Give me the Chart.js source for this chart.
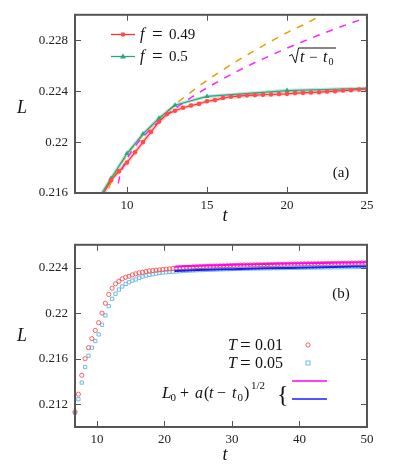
<!DOCTYPE html>
<html>
<head>
<meta charset="utf-8">
<script src="https://cdn.jsdelivr.net/npm/chart.js@4.4.1/dist/chart.umd.min.js"></script>
<style>
  body { margin: 0; background: #fff; }
  #wrap { position: relative; width: 395px; height: 467px; }
  canvas { position: absolute; left: 0; }
</style>
</head>
<body>
<div id="wrap">
  <canvas id="panelA" width="395" height="230" style="top:0"></canvas>
  <canvas id="panelB" width="395" height="237" style="top:230px"></canvas>
</div>
<script>
// ---- panel (a) data ----
const tRed = [8.5, 9, 9.5, 10, 10.5, 11, 11.5, 12, 12.5, 13, 13.5, 14, 14.5, 15, 15.5, 16, 16.5,
  17, 17.5, 18, 18.5, 19, 19.5, 20, 20.5, 21, 21.5, 22, 22.5, 23, 23.5, 24, 24.5, 25];
const lRed = [0.2159, 0.2170, 0.2177, 0.2184, 0.2192, 0.2200, 0.2208, 0.2216, 0.2222, 0.22246,
  0.2227, 0.22287, 0.2230, 0.22321, 0.2233, 0.22346, 0.22356, 0.22361, 0.22367, 0.22369,
  0.22372, 0.22374, 0.22377, 0.22379, 0.22385, 0.22387, 0.2239, 0.22392, 0.22397, 0.224,
  0.22405, 0.22408, 0.22413, 0.22415];
const tGreen = [8, 9, 10, 11, 12, 13, 15, 20, 25];
const lGreen = [0.2151, 0.21713, 0.2191, 0.22064, 0.22187, 0.2229, 0.22359, 0.22405, 0.22423];
const tOrange = [8.6, 8.75, 9, 9.5, 10, 11, 12, 13, 14, 15, 16, 17, 18, 19, 20, 21, 22, 23];
const lOrange = [0.21533, 0.21598, 0.2168, 0.21803, 0.219, 0.22055, 0.22183, 0.22294, 0.22393,
  0.22484, 0.22568, 0.22647, 0.22721, 0.22792, 0.2286, 0.2292, 0.22985, 0.23045];
const tMag = [9.45, 9.6, 10, 10.5, 11, 12, 13, 14, 15, 16, 17, 18, 19, 20, 21, 22, 23, 24, 25];
const lMag = [0.21676, 0.21755, 0.21869, 0.21965, 0.22041, 0.22162, 0.22262, 0.22349, 0.22426,
  0.22497, 0.22563, 0.22625, 0.22682, 0.22738, 0.2279, 0.22841, 0.22889, 0.22935, 0.2298];
const xTicksA = [10, 15, 20, 25];
const yTicksA = [0.216, 0.22, 0.224, 0.228];
const yLabelsA = ['0.216', '0.22', '0.224', '0.228'];

// ---- panel (b) data ----
const tB = [6.75, 7.25, 7.75, 8.25, 8.75, 9.25, 9.75, 10.25, 10.75, 11.25, 11.75, 12.25, 12.75,
  13.25, 13.75, 14.25, 14.75, 15.25, 15.75, 16.25, 16.75, 17.25, 17.75, 18.25, 18.75, 19.25, 19.75,
  20.25, 20.75, 21.25, 21.75, 22.25, 22.75, 23.25, 23.75, 24.25, 24.75,
  25.25, 25.75, 26.25, 26.75, 27.25, 27.75, 28.25, 28.75, 29.25, 29.75,
  30.25, 30.75, 31.25, 31.75, 32.25, 32.75, 33.25, 33.75, 34.25, 34.75,
  35.25, 35.75, 36.25, 36.75, 37.25, 37.75, 38.25, 38.75, 39.25, 39.75,
  40.25, 40.75, 41.25, 41.75, 42.25, 42.75, 43.25, 43.75, 44.25, 44.75,
  45.25, 45.75, 46.25, 46.75, 47.25, 47.75, 48.25, 48.75, 49.25, 49.75];
const lT001 = [0.21133, 0.21288, 0.21454, 0.2160, 0.21697, 0.21776, 0.21848, 0.21916, 0.2200, 0.22087,
  0.22164, 0.22219, 0.22257, 0.2228, 0.22301, 0.22315, 0.22324, 0.22336, 0.22345, 0.22354,
  0.22359, 0.22365, 0.22371, 0.22374, 0.22377, 0.2238, 0.22383,
  0.22386, 0.22389, 0.22392, 0.22395, 0.22397, 0.22399, 0.22401, 0.22403, 0.22405, 0.22406,
  0.22408, 0.22409, 0.22411, 0.22412, 0.22413, 0.22414, 0.22415, 0.22416, 0.22417, 0.22418,
  0.22419, 0.2242, 0.22421, 0.22422, 0.22422, 0.22423, 0.22424, 0.22425, 0.22425, 0.22426,
  0.22427, 0.22427, 0.22428, 0.22429, 0.22429, 0.2243, 0.2243, 0.22431, 0.22432, 0.22432,
  0.22433, 0.22433, 0.22434, 0.22434, 0.22435, 0.22435, 0.22436, 0.22436, 0.22437, 0.22437,
  0.22438, 0.22438, 0.22438, 0.22439, 0.22439, 0.2244, 0.2244, 0.2244, 0.22441, 0.22441];
const lT005 = [0.21124, 0.21244, 0.2139, 0.21527, 0.21626, 0.21697, 0.21755, 0.21813, 0.21898, 0.2198,
  0.22061, 0.22126, 0.2217, 0.22207, 0.22234, 0.22257, 0.22271, 0.22286, 0.22295, 0.2231,
  0.22321, 0.2233, 0.22336, 0.22341, 0.22347, 0.22353, 0.22356,
  0.22359, 0.22362, 0.22364, 0.22366, 0.22368, 0.2237, 0.22372, 0.22374, 0.22375, 0.22377,
  0.22378, 0.22379, 0.2238, 0.22381, 0.22382, 0.22383, 0.22384, 0.22385, 0.22386, 0.22387,
  0.22388, 0.22388, 0.22389, 0.2239, 0.2239, 0.22391, 0.22392, 0.22392, 0.22393, 0.22393,
  0.22394, 0.22394, 0.22395, 0.22395, 0.22396, 0.22396, 0.22397, 0.22397, 0.22398, 0.22398,
  0.22399, 0.22399, 0.224, 0.224, 0.224, 0.22401, 0.22401, 0.22402, 0.22402, 0.22402,
  0.22403, 0.22403, 0.22403, 0.22404, 0.22404, 0.22404, 0.22405, 0.22405, 0.22405, 0.22406];
const tFit = [21.5, 25, 30, 35, 40, 45, 50];
const lFit001 = [0.22408, 0.22416, 0.22424, 0.22431, 0.22437, 0.22442, 0.22447];
const lFit005 = [0.2237, 0.22378, 0.22386, 0.22393, 0.22399, 0.22405, 0.2241];
const xTicksB = [10, 20, 30, 40, 50];
const yTicksB = [0.212, 0.216, 0.22, 0.224];
const yLabelsB = ['0.212', '0.216', '0.22', '0.224'];

const SERIF = "'Liberation Serif', 'DejaVu Serif', serif";
const rm = s => s + 'px ' + SERIF;
const it = s => 'italic ' + s + 'px ' + SERIF;
const pts = (xs, ys) => xs.map((x, i) => ({ x: x, y: ys[i] }));

function scales(xmin, xmax, xt, ymin, ymax, yt, yl, xh) {
  return {
    x: {
      type: 'linear', min: xmin, max: xmax,
      afterBuildTicks: s => { s.ticks = xt.map(v => ({ value: v })); },
      afterFit: s => { s.height = xh; },
      grid: { display: false, drawTicks: false }, border: { display: false },
      ticks: { font: { family: SERIF, size: 13 }, color: '#222', padding: 5, maxRotation: 0, autoSkip: false }
    },
    y: {
      type: 'linear', min: ymin, max: ymax,
      afterBuildTicks: s => { s.ticks = yt.map(v => ({ value: v })); },
      afterFit: s => { s.width = 75; },
      grid: { display: false, drawTicks: false }, border: { display: false },
      ticks: { font: { family: SERIF, size: 13 }, color: '#222', padding: 7, autoSkip: false,
        callback: (v, i) => yl[i] }
    }
  };
}

// box, inward ticks on all four sides
function drawFrame(chart) {
  const { ctx, chartArea: a, scales: sc } = chart;
  ctx.save();
  ctx.strokeStyle = '#555';
  ctx.lineWidth = 1;
  ctx.beginPath();
  sc.x.ticks.forEach(t => {
    const p = Math.round(sc.x.getPixelForValue(t.value)) + 0.5;
    if (p > a.left + 2 && p < a.right - 2) {
      ctx.moveTo(p, a.bottom); ctx.lineTo(p, a.bottom - 6);
      ctx.moveTo(p, a.top); ctx.lineTo(p, a.top + 6);
    }
  });
  sc.y.ticks.forEach(t => {
    const p = Math.round(sc.y.getPixelForValue(t.value)) + 0.5;
    if (p > a.top + 2 && p < a.bottom - 2) {
      ctx.moveTo(a.left, p); ctx.lineTo(a.left + 6, p);
      ctx.moveTo(a.right, p); ctx.lineTo(a.right - 6, p);
    }
  });
  ctx.stroke();
  ctx.lineWidth = 2;
  ctx.strokeRect(a.left, a.top, a.right - a.left, a.bottom - a.top);
  ctx.restore();
}

function txt(ctx, s, font, x, y, align) {
  ctx.font = font;
  ctx.textAlign = align || 'left';
  ctx.fillText(s, x, y);
}

const decoA = {
  id: 'decoA',
  afterDraw(chart) {
    const ctx = chart.ctx;
    drawFrame(chart);
    ctx.save();
    ctx.fillStyle = '#111';
    ctx.textBaseline = 'alphabetic';
    txt(ctx, 'L', it(18), 22, 113, 'center');
    txt(ctx, 't', it(18), 225, 221, 'center');
    txt(ctx, '(a)', rm(15), 341, 177, 'center');

    // legend
    ctx.lineWidth = 1.3;
    ctx.strokeStyle = '#ff3333';
    ctx.beginPath(); ctx.moveTo(111, 34.5); ctx.lineTo(135, 34.5); ctx.stroke();
    ctx.fillStyle = '#ff4d4d';
    ctx.beginPath(); ctx.arc(123, 34.5, 2.3, 0, Math.PI * 2); ctx.fill();
    ctx.strokeStyle = '#2aa77f';
    ctx.beginPath(); ctx.moveTo(111, 56.5); ctx.lineTo(135, 56.5); ctx.stroke();
    ctx.fillStyle = '#2aa77f';
    ctx.beginPath(); ctx.moveTo(123, 53.5); ctx.lineTo(126, 58.5); ctx.lineTo(120, 58.5); ctx.closePath(); ctx.fill();

    ctx.fillStyle = '#111';
    txt(ctx, 'f', it(16), 140, 39);
    txt(ctx, '=', rm(19), 152, 40);
    txt(ctx, '0.49', rm(15), 169, 39);
    txt(ctx, 'f', it(16), 140, 61);
    txt(ctx, '=', rm(19), 152, 62);
    txt(ctx, '0.5', rm(15), 169, 61);

    // sqrt(t - t0) label
    ctx.strokeStyle = '#111';
    ctx.lineWidth = 1;
    ctx.beginPath();
    ctx.moveTo(289, 56); ctx.lineTo(292, 54.5); ctx.lineTo(295.5, 63); ctx.lineTo(298.5, 48); ctx.lineTo(336, 48);
    ctx.stroke();
    txt(ctx, 't', it(16), 300, 62);
    txt(ctx, '\u2212', rm(15), 309, 62);
    txt(ctx, 't', it(16), 323, 62);
    txt(ctx, '0', rm(10), 328.5, 65);
    ctx.restore();
  }
};

const decoB = {
  id: 'decoB',
  afterDraw(chart) {
    const ctx = chart.ctx;
    drawFrame(chart);
    ctx.save();
    ctx.fillStyle = '#111';
    ctx.textBaseline = 'alphabetic';
    txt(ctx, 'L', it(18), 22, 111, 'center');
    txt(ctx, 't', it(18), 225, 230, 'center');
    txt(ctx, '(b)', rm(15), 341, 68, 'center');

    txt(ctx, 'T', it(16), 228, 120);
    txt(ctx, '=', rm(19), 240, 121);
    txt(ctx, '0.01', rm(16), 255, 120);
    txt(ctx, 'T', it(16), 228, 138);
    txt(ctx, '=', rm(19), 240, 139);
    txt(ctx, '0.05', rm(16), 255, 138);

    ctx.lineWidth = 1;
    ctx.strokeStyle = 'rgba(255,70,70,0.85)';
    ctx.beginPath(); ctx.arc(308, 115, 2.1, 0, Math.PI * 2); ctx.stroke();
    ctx.strokeStyle = '#6fbbe8';
    ctx.strokeRect(306, 131, 4, 4);

    txt(ctx, 'L', it(17), 162, 168);
    txt(ctx, '0', rm(11), 170.5, 171);
    txt(ctx, '+', rm(16), 180, 168);
    txt(ctx, 'a', it(16), 195, 168);
    txt(ctx, '(', rm(16), 204, 168);
    txt(ctx, 't', it(16), 209, 168);
    txt(ctx, '\u2212', rm(16), 217, 168);
    txt(ctx, 't', it(16), 232, 168);
    txt(ctx, '0', rm(11), 237.5, 171);
    txt(ctx, ')', rm(16), 244, 168);
    txt(ctx, '1/2', rm(11), 251, 159);
    txt(ctx, '{', rm(24), 277, 172);

    ctx.lineWidth = 1.5;
    ctx.strokeStyle = '#ff00ff';
    ctx.beginPath(); ctx.moveTo(292, 151); ctx.lineTo(327, 151); ctx.stroke();
    ctx.strokeStyle = '#1a1aff';
    ctx.beginPath(); ctx.moveTo(292, 169); ctx.lineTo(327, 169); ctx.stroke();
    ctx.restore();
  }
};

const common = {
  responsive: false,
  animation: false,
  events: [],
  plugins: { legend: { display: false }, tooltip: { enabled: false } }
};

new Chart(document.getElementById('panelA'), {
  type: 'line',
  data: {
    datasets: [
      { data: pts(tRed, lRed), borderColor: '#ff3333', borderWidth: 1.2, pointRadius: 2.3,
        pointBackgroundColor: '#ff4d4d', pointBorderWidth: 0, tension: 0 },
      { data: pts(tGreen, lGreen), borderColor: '#2aa77f', borderWidth: 1.2, pointStyle: 'triangle',
        pointRadius: 3, pointBackgroundColor: '#2aa77f', pointBorderWidth: 0, tension: 0 },
      { data: pts(tMag, lMag), borderColor: '#ff22ff', borderWidth: 1.5, borderDash: [7, 7],
        pointRadius: 0, cubicInterpolationMode: 'monotone' },
      { data: pts(tOrange, lOrange), borderColor: '#e69f00', borderWidth: 1.5, borderDash: [7, 7],
        pointRadius: 0, cubicInterpolationMode: 'monotone' },
      { data: pts(tRed, lRed), borderColor: 'rgba(255,90,90,0.3)', borderWidth: 4, pointRadius: 0 },
      { data: pts(tGreen, lGreen), borderColor: 'rgba(40,170,130,0.3)', borderWidth: 3.5, pointRadius: 0 }
    ]
  },
  options: Object.assign({}, common, {
    layout: { padding: { top: 10, right: 28, left: 0, bottom: 0 } },
    scales: scales(6.75, 25, xTicksA, 0.216, 0.230, yTicksA, yLabelsA, 37)
  }),
  plugins: [decoA]
});

new Chart(document.getElementById('panelB'), {
  type: 'line',
  data: {
    datasets: [
      { data: pts(tFit, lFit001), borderColor: '#ff00ff', borderWidth: 2, pointRadius: 0,
        cubicInterpolationMode: 'monotone' },
      { data: pts(tFit, lFit005), borderColor: '#1a1aff', borderWidth: 2, pointRadius: 0,
        cubicInterpolationMode: 'monotone' },
      { data: pts(tB, lT001), showLine: false, pointStyle: 'circle', pointRadius: 2.1,
        pointBorderColor: 'rgba(255,70,70,0.85)', pointBorderWidth: 1,
        pointBackgroundColor: 'rgba(0,0,0,0)', clip: false },
      { data: pts(tB, lT005), showLine: false, pointStyle: 'rect', pointRadius: 2.3,
        pointBorderColor: '#6fbbe8', pointBorderWidth: 1,
        pointBackgroundColor: 'rgba(0,0,0,0)', clip: false }
    ]
  },
  options: Object.assign({}, common, {
    layout: { padding: { top: 13, right: 28, left: 0, bottom: 0 } },
    scales: scales(6.75, 50, xTicksB, 0.210, 0.226, yTicksB, yLabelsB, 40)
  }),
  plugins: [decoB]
});
</script>
</body>
</html>
